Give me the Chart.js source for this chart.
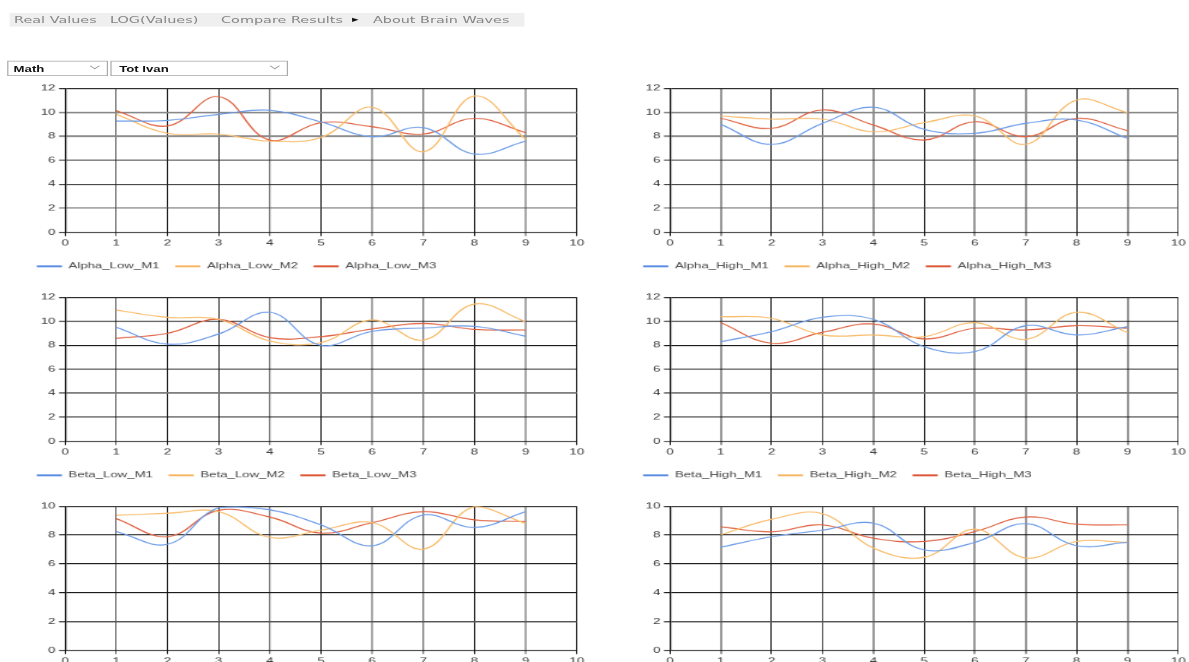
<!DOCTYPE html>
<html>
<head>
<meta charset="utf-8">
<script src="https://cdn.jsdelivr.net/npm/chart.js@4.4.1/dist/chart.umd.min.js"></script>
<style>
html, body { margin: 0; padding: 0; overflow: hidden; background: #fff; width: 1189px; height: 662px; }
/* the reference is a stretched screenshot, so the whole page is laid out small and scaled */
#page { position: absolute; left: 0; top: 0; width: 991px; height: 871px; transform: scale(1.2, 0.76); transform-origin: 0 0; }
#menu { position: absolute; left: 7.9px; top: 17.1px; width: 429.6px; height: 18.4px; background: #efefef; font: 12px "DejaVu Sans", sans-serif; color: #848484; }
#menu span { position: absolute; top: 0; line-height: 18.4px; white-space: nowrap; }
#menu .arrow { color: #111; font-size: 11px; }
.sel { position: absolute; top: 80.3px; height: 19.7px; box-sizing: border-box; border: 1px solid #a9a9a9; background: #fff; }
.sel select { appearance: none; -webkit-appearance: none; border: 0; outline: 0; background: transparent; width: 100%; height: 100%; margin: 0; font: bold 11px "Liberation Sans", Arial, sans-serif; color: #111; }
.sel::after { content: ""; position: absolute; right: 7px; top: 3px; width: 5px; height: 5px; border-right: 1px solid #999; border-bottom: 1px solid #999; transform: rotate(45deg); pointer-events: none; }
canvas { position: absolute; }
</style>
</head>
<body>
<div id="page">
  <div id="menu">
    <span style="left:3.8px">Real Values</span>
    <span style="left:83.8px">LOG(Values)</span>
    <span style="left:176.3px">Compare Results</span>
    <span class="arrow" style="left:285.4px">&#9656;</span>
    <span style="left:302.9px">About Brain Waves</span>
  </div>
  <div class="sel" style="left:6.3px;width:83.7px"><select style="padding-left:4px"><option>Math</option></select></div>
  <div class="sel" style="left:92.3px;width:148px"><select style="padding-left:6px"><option>Tot Ivan</option></select></div>

  <canvas id="c1" width="492" height="275" style="left:0px;top:102.6px"></canvas>
  <canvas id="c2" width="499" height="275" style="left:491.7px;top:102.6px"></canvas>
  <canvas id="c3" width="492" height="275" style="left:0px;top:377.6px"></canvas>
  <canvas id="c4" width="499" height="275" style="left:491.7px;top:377.6px"></canvas>
  <canvas id="c5" width="492" height="275" style="left:0px;top:652.6px"></canvas>
  <canvas id="c6" width="499" height="275" style="left:491.7px;top:652.6px"></canvas>
</div>
<script>
const xValues = [1, 2, 3, 4, 5, 6, 7, 8, 9];
const xTickLabels = ['0', '1', '2', '3', '4', '5', '6', '7', '8', '9', '10'];

const alphaLowM1 = [9.27, 9.33, 9.83, 10.17, 9.2, 7.97, 8.72, 6.52, 7.6];
const alphaLowM2 = [9.83, 8.25, 8.19, 7.6, 7.9, 10.42, 6.71, 11.36, 7.74];
const alphaLowM3 = [10.14, 8.86, 11.31, 7.69, 9.14, 8.8, 8.19, 9.5, 8.3];

const alphaHighM1 = [9.0, 7.33, 9.08, 10.42, 8.58, 8.25, 9.08, 9.36, 7.83];
const alphaHighM2 = [9.69, 9.44, 9.44, 8.38, 9.14, 9.69, 7.33, 11.03, 9.97];
const alphaHighM3 = [9.5, 8.66, 10.2, 8.94, 7.69, 9.22, 7.97, 9.5, 8.47];

const betaLowM1 = [9.5, 8.1, 8.94, 10.75, 8.0, 9.17, 9.44, 9.58, 8.75];
const betaLowM2 = [10.94, 10.33, 10.17, 8.36, 8.22, 10.11, 8.44, 11.44, 9.97];
const betaLowM3 = [8.58, 9.0, 10.17, 8.64, 8.72, 9.36, 9.83, 9.33, 9.28];

const betaHighM1 = [8.3, 9.14, 10.33, 10.17, 7.89, 7.47, 9.64, 8.86, 9.56];
const betaHighM2 = [10.39, 10.25, 8.86, 8.86, 8.72, 9.89, 8.5, 10.75, 9.06];
const betaHighM3 = [9.89, 8.17, 9.08, 9.78, 8.53, 9.42, 9.28, 9.64, 9.42];

const gammaLowM1 = [8.25, 7.36, 9.9, 9.76, 8.71, 7.26, 9.4, 8.53, 9.63];
const gammaLowM2 = [9.38, 9.52, 9.63, 7.84, 8.34, 8.87, 7.03, 9.98, 8.8];
const gammaLowM3 = [9.15, 7.89, 9.72, 9.26, 8.14, 8.87, 9.63, 9.06, 8.94];

const gammaMidM1 = [7.15, 7.89, 8.34, 8.83, 6.97, 7.5, 8.8, 7.26, 7.5];
const gammaMidM2 = [8.02, 9.1, 9.49, 7.1, 6.46, 8.41, 6.41, 7.56, 7.5];
const gammaMidM3 = [8.57, 8.23, 8.71, 7.79, 7.56, 8.25, 9.26, 8.76, 8.71];

const panels = [
  { id: 'c1', col: 0, row: 0, yMax: 12, names: ['Alpha_Low_M1', 'Alpha_Low_M2', 'Alpha_Low_M3'], series: [alphaLowM1, alphaLowM2, alphaLowM3] },
  { id: 'c2', col: 1, row: 0, yMax: 12, names: ['Alpha_High_M1', 'Alpha_High_M2', 'Alpha_High_M3'], series: [alphaHighM1, alphaHighM2, alphaHighM3] },
  { id: 'c3', col: 0, row: 1, yMax: 12, names: ['Beta_Low_M1', 'Beta_Low_M2', 'Beta_Low_M3'], series: [betaLowM1, betaLowM2, betaLowM3] },
  { id: 'c4', col: 1, row: 1, yMax: 12, names: ['Beta_High_M1', 'Beta_High_M2', 'Beta_High_M3'], series: [betaHighM1, betaHighM2, betaHighM3] },
  { id: 'c5', col: 0, row: 2, yMax: 10, names: ['Gamma_Low_M1', 'Gamma_Low_M2', 'Gamma_Low_M3'], series: [gammaLowM1, gammaLowM2, gammaLowM3] },
  { id: 'c6', col: 1, row: 2, yMax: 10, names: ['Gamma_Mid_M1', 'Gamma_Mid_M2', 'Gamma_Mid_M3'], series: [gammaMidM1, gammaMidM2, gammaMidM3] }
];

const lineColors = ['#6b9be8', '#f8bb68', '#e0603f'];
const legendColors = ['#4f86e0', '#f7b25a', '#dc4a28'];

// gridline look of the screenshot (resampling made some lines grey and wide)
const vGrid = [
  { color: ['#111', '#555', '#111', '#333', '#777', '#111', '#aaa', '#777', '#111', '#aaa', '#111'], width: [1, 1, 1, 1, 1.3, 1, 2, 1.3, 1, 2, 1] },
  { color: ['#111', '#999', '#111', '#555', '#999', '#111', '#999', '#999', '#111', '#999', '#555'], width: [1, 2, 1, 1, 2, 1, 2, 2, 1, 2, 1] }
];
const hGrid = [
  { color: ['#111', '#555', '#222', '#222', '#888', '#888', '#222'], width: [1.3, 1.3, 1.3, 1.3, 2.2, 2.2, 1.3] },
  { color: ['#333', '#111', '#777', '#111', '#111', '#111', '#222'], width: [1.3, 1.3, 2, 1.3, 1.3, 1.3, 1.3] },
  { color: ['#111', '#555', '#111', '#111', '#111', '#333'], width: [1.3, 2, 1.3, 1.3, 1.3, 1.3] }
];
const colLayout = [
  { padLeft: 17.6, padRight: 11.3, yWidth: 36.6 },
  { padLeft: 30.9, padRight: 6.3, yWidth: 35.35 }
];

const tickFont = { family: '"Liberation Sans", Arial, sans-serif', size: 11 };

panels.forEach(p => {
  const lay = colLayout[p.col];
  const vg = vGrid[p.col];
  const hg = hGrid[p.row];
  new Chart(document.getElementById(p.id), {
    type: 'line',
    data: {
      datasets: p.names.map((name, i) => ({
        label: name,
        data: xValues.map((x, j) => ({ x: x, y: p.series[i][j] })),
        borderColor: lineColors[i],
        backgroundColor: lineColors[i],
        borderWidth: 1.4,
        pointRadius: 0,
        tension: 0.4,
        fill: false
      }))
    },
    options: {
      responsive: false,
      animation: false,
      layout: { padding: { left: lay.padLeft, right: lay.padRight, top: 13.2, bottom: 12.1 } },
      plugins: {
        tooltip: { enabled: false },
        legend: {
          position: 'bottom',
          align: 'start',
          labels: {
            font: tickFont,
            color: '#444',
            usePointStyle: true,
            pointStyle: 'line',
            pointStyleWidth: 21,
            padding: 13,
            generateLabels: chart => Chart.defaults.plugins.legend.labels.generateLabels(chart).map((l, i) => ({
              ...l, lineWidth: 2.4, strokeStyle: legendColors[i], fillStyle: legendColors[i]
            }))
          }
        }
      },
      scales: {
        x: {
          type: 'linear',
          min: 0,
          max: 10,
          ticks: { stepSize: 1, autoSkip: false, maxRotation: 0, padding: 3, color: '#333', font: tickFont, callback: v => xTickLabels[v] },
          grid: { color: c => vg.color[c.index], lineWidth: c => vg.width[c.index], tickLength: 5 },
          border: { color: '#111', width: 1 },
          afterFit: s => { s.height = 26.3; }
        },
        y: {
          min: 0,
          max: p.yMax,
          ticks: { stepSize: 2, padding: 3, color: '#333', font: tickFont },
          grid: { color: c => hg.color[c.index], lineWidth: c => hg.width[c.index], tickLength: 5 },
          border: { color: '#111', width: 1.3 },
          afterFit: s => { s.width = lay.yWidth; }
        }
      }
    }
  });
});
</script>
</body>
</html>
